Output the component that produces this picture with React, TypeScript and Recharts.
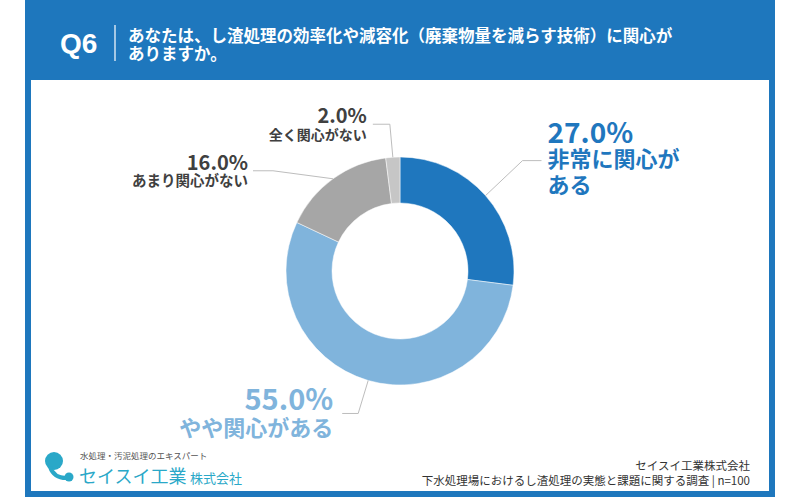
import React from "react";
import { PieChart, Pie, Cell } from "recharts";

const categories = ["非常に関心がある", "やや関心がある", "あまり関心がない", "全く関心がない"];
const shares = [27.0, 55.0, 16.0, 2.0];
const labelLines = [["非常に関心が", "ある"], ["やや関心がある"], ["あまり関心がない"], ["全く関心がない"]];

const sliceColors = ["#1f77be", "#80b4dc", "#a6a6a6", "#c6c6c6"];
const textColors = ["#1f77be", "#80b4dc", "#404040", "#404040"];

const questionLines = [
  "あなたは、し渣処理の効率化や減容化（廃棄物量を減らす技術）に関心が",
  "ありますか。",
];
const sourceLines = ["セイスイ工業株式会社", "下水処理場におけるし渣処理の実態と課題に関する調査 | n=100"];

const pieData = categories.map((name, i) => ({ name, value: shares[i] }));

const FONT = "'Noto Sans CJK JP', 'Noto Sans', sans-serif";
const BLUE = "#1e77bd";

// label placement per slice: elbow offset from outer edge, tail, text offsets
const labelLayout = [
  { ex: 37, ey: -35, tail: 19, gap: 6, anchor: "start", rows: [-18, 6, 32], sizes: [28, 22, 22] },
  { ex: -10, ey: 33, tail: -16, gap: -9, anchor: "end", rows: [-3, 23], sizes: [29, 22] },
  { ex: -60, ey: -8, tail: -20, gap: -5, anchor: "end", rows: [-1, 15], sizes: [20, 14.5] },
  { ex: -3, ey: -33, tail: -17, gap: -6, anchor: "end", rows: [-1, 15.5], sizes: [20, 14] },
];

const RADIAN = Math.PI / 180;

const renderLabel = (props: any) => {
  const { cx, cy, midAngle, outerRadius, index } = props;
  const lay = labelLayout[index];
  const sx = cx + outerRadius * Math.cos(-midAngle * RADIAN);
  const sy = cy + outerRadius * Math.sin(-midAngle * RADIAN);
  const mx = sx + lay.ex;
  const my = sy + lay.ey;
  const endX = mx + lay.tail;
  const tx = endX + lay.gap;
  const rows = [`${shares[index].toFixed(1)}%`, ...labelLines[index]];
  return (
    <g key={`lbl-${index}`}>
      <polyline
        points={`${sx},${sy} ${mx},${my} ${endX},${my}`}
        fill="none"
        stroke="#bdbdbd"
        strokeWidth={1}
      />
      {rows.map((t, r) => (
        <text
          key={r}
          x={tx}
          y={my + lay.rows[r]}
          textAnchor={lay.anchor as any}
          fill={textColors[index]}
          fontSize={lay.sizes[r]}
          fontWeight={700}
          fontFamily={FONT}
        >
          {t}
        </text>
      ))}
    </g>
  );
};

export default function App() {
  return (
    <div
      style={{
        position: "absolute",
        left: 0,
        top: 0,
        width: 800,
        height: 500,
        background: "#fff",
        fontFamily: FONT,
        overflow: "hidden",
      }}
    >
      <svg width={800} height={500} style={{ position: "absolute", left: 0, top: 0 }}>
        <rect x={25} y={0} width={750} height={497} fill={BLUE} />
        <rect x={31} y={80} width={738} height={411} fill="#fff" />
        <text x={60} y={53} fill="#fff" fontSize={28} fontWeight={700} fontFamily="'Liberation Sans', Arial, sans-serif">
          Q6
        </text>
        <line x1={115} y1={25} x2={115} y2={61} stroke="#fff" strokeWidth={1.2} />
        {questionLines.map((t, i) => (
          <text key={i} x={128} y={42 + i * 18} fill="#fff" fontSize={16.5} fontWeight={700} fontFamily={FONT}>
            {t}
          </text>
        ))}

        {/* logo */}
        <circle cx={54} cy={461} r={9} fill="#2aa8c8" />
        <path d="M50 467 Q54 478 66 478" stroke="#2aa8c8" strokeWidth={4} fill="none" />
        <circle cx={69} cy={477} r={4.5} fill="#2aa8c8" />
        <text x={80} y={459} fill="#555" fontSize={8.5} fontFamily={FONT}>
          水処理・汚泥処理のエキスパート
        </text>
        <text x={79} y={483} fill="#2aa8c8" fontSize={18} fontFamily={FONT}>
          セイスイ工業
        </text>
        <text x={190} y={483} fill="#2aa8c8" fontSize={13} fontFamily={FONT}>
          株式会社
        </text>

        {sourceLines.map((t, i) => (
          <text key={i} x={750} y={470 + i * 15} textAnchor="end" fill="#333" fontSize={11.5} fontFamily={FONT}>
            {t}
          </text>
        ))}
      </svg>

      <div style={{ position: "absolute", left: 0, top: 0 }}>
        <PieChart width={800} height={500} margin={{ top: 0, right: 0, bottom: 0, left: 0 }}>
          <Pie
            data={pieData}
            dataKey="value"
            nameKey="name"
            cx={400}
            cy={271}
            innerRadius={68}
            outerRadius={114}
            startAngle={90}
            endAngle={-270}
            stroke="#ffffff"
            strokeWidth={0.5}
            label={renderLabel}
            labelLine={false}
            isAnimationActive={false}
          >
            {pieData.map((d, i) => (
              <Cell key={d.name} fill={sliceColors[i]} />
            ))}
          </Pie>
        </PieChart>
      </div>
    </div>
  );
}
